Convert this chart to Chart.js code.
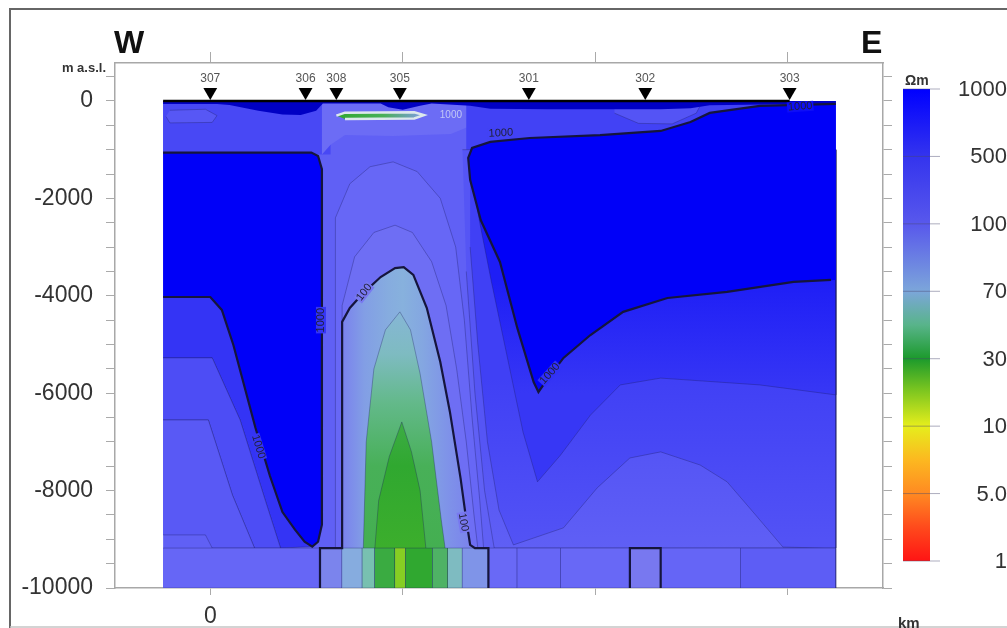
<!DOCTYPE html>
<html>
<head>
<meta charset="utf-8">
<script src="https://cdn.jsdelivr.net/npm/chart.js@4.4.0/dist/chart.umd.min.js"></script>
<style>
  html, body { margin: 0; padding: 0; background: #fff; }
  #wrap { width: 1007px; height: 628px; }
</style>
</head>
<body>
<div id="wrap"><canvas id="section" width="1007" height="628"></canvas></div>
<script>
// ---------------- données (x en km, y en m a.s.l., rho en ohm.m) ----------------

// stations MT le long du profil
const stationNames = ['307', '306', '308', '305', '301', '302', '303']
const stationKm = [0, 0.99, 1.31, 1.97, 3.31, 4.52, 6.02]

// axe vertical : étiquettes tous les 2000 m, petites graduations tous les 500 m
const depthLabels = [0, -2000, -4000, -6000, -8000, -10000]
const distTicks = [0, 2, 4, 6]

// échelle de couleur (étiquettes de la barre)
const colorbarLabels = ['1000', '500', '100', '70', '30', '10', '5.0', '1']

// emprise du modèle
const sectionLeft = -0.49
const sectionRight = 6.5
const sectionBase = -10000
const layerTop = -9180 // toit de la couche profonde

// couche profonde : bords des blocs et résistivités
const bottomEdges = [-0.49, 1.14, 1.37, 1.58, 1.71, 1.92, 2.03, 2.31, 2.47, 2.62, 2.89, 3.19, 3.64, 4.36, 4.68, 5.51, 6.5]
const bottomRho = [125, 95, 78, 55, 34, 16, 30, 42, 62, 88, 118, 125, 120, 100, 128, 150]

// couches superficielles
const topWest = [[-0.49, 0], [1.25, 0], [1.25, -1100], [-0.49, -1100]]
const topWestLens = [[-0.42, -190], [-0.05, -170], [0.07, -300], [0.02, -440], [-0.42, -450], [-0.46, -320]]
const topMid = [[1.16, -40], [2.72, -40], [2.8, -200], [2.72, -500], [2.5, -680], [1.9, -720], [1.4, -700], [1.25, -900], [1.16, -1100]]
const topEast = [[2.66, 0], [6.5, 0], [6.5, -1000], [2.66, -1000]]
const topEastPatch = [[4.2, -60], [5.1, -60], [5.05, -250], [4.8, -470], [4.45, -460], [4.2, -250]]
const surfaceBand = [[-0.49, 0], [6.5, 0], [6.5, -50], [5.19, -90], [4.99, -150], [4.68, -170], [3.5, -170], [2.91, -160], [2.7, -100], [2.3, -50], [2.18, -100], [2.0, -180], [1.85, -130], [1.77, -50], [1.17, -50], [1.1, -200], [0.94, -290], [0.75, -280], [0.5, -200], [0.2, -80], [0.07, -60], [-0.49, -60]]
const greenLens = [[1.31, -300], [1.4, -240], [2.12, -230], [2.22, -290], [2.12, -360], [1.4, -370]]
const greenLensRho = [[1.31, 30], [1.8, 40], [2.22, 85]]

// bloc résistant ouest (isoligne 1000) et bandes en dessous
const westContour = [[-0.49, -1060], [1.05, -1060], [1.12, -1130], [1.16, -1400], [1.16, -8700], [1.12, -9050], [1.06, -9150], [0.98, -9050], [0.88, -8800], [0.75, -8440], [0.62, -7700], [0.47, -6715], [0.24, -5010], [0.12, -4290], [0, -4025], [-0.49, -4025]]
const westBandA = [[-0.49, -4025], [0, -4025], [0.12, -4290], [0.24, -5010], [0.47, -6715], [0.62, -7700], [0.75, -8440], [0.88, -8800], [0.98, -9050], [1.06, -9150], [0.73, -9180], [0.57, -8190], [0.31, -6550], [0.02, -5275], [-0.49, -5275]]
const westBandB = [[-0.49, -5275], [0.02, -5275], [0.31, -6550], [0.57, -8190], [0.73, -9180], [0.46, -9180], [0.23, -8090], [-0.02, -6550], [-0.49, -6550]]
const westBandC = [[-0.49, -6550], [-0.02, -6550], [0.23, -8090], [0.46, -9180], [0.02, -9180], [-0.05, -8910], [-0.49, -8910]]

// bloc résistant est (isoligne 1000) et bandes en dessous
const eastContour = [[6.5, -60], [5.71, -100], [5.19, -245], [4.99, -430], [4.68, -615], [4.05, -700], [3.32, -760], [2.91, -840], [2.72, -965], [2.68, -1170], [2.7, -1620], [2.81, -2445], [3.01, -3305], [3.19, -4660], [3.36, -5770], [3.41, -5975], [3.51, -5690], [3.67, -5275], [3.95, -4805], [4.29, -4330], [4.75, -4045], [5.37, -3920], [6.06, -3715], [6.5, -3675]]
const eastBand1 = [[2.72, -1000], [6.5, -1000], [6.5, -6035], [5.71, -5830], [4.68, -5690], [4.26, -5830], [3.95, -6450], [3.64, -7270], [3.4, -7820], [3.25, -6800], [3.08, -5200], [2.92, -3700], [2.8, -2500], [2.72, -1600]]
const eastBand1Rho = [[-3700, 620], [-6000, 390]]
const eastBand2 = [[2.7, -1000], [6.5, -1000], [6.5, -9180], [6.39, -9180], [5.95, -9160], [5.64, -8440], [5.37, -7820], [5.09, -7475], [4.68, -7205], [4.36, -7330], [4.02, -7945], [3.67, -8765], [3.15, -9115], [3.0, -8400], [2.88, -7000], [2.78, -5000], [2.7, -3000]]
const eastBand2Rho = [[-5700, 320], [-9000, 200]]
const eastBand3 = [[2.62, -1000], [6.5, -1000], [6.5, -9180], [2.95, -9180], [2.85, -8000], [2.75, -6000], [2.66, -3500]]
const eastBand3Rho = [[-7200, 185], [-9180, 145]]

// zone centrale au-dessus du conducteur
const plumeMid = [[1.3, -9180], [1.3, -2400], [1.45, -1700], [1.66, -1350], [1.9, -1250], [2.15, -1450], [2.39, -2000], [2.55, -3000], [2.64, -4500], [2.72, -6500], [2.8, -8200], [2.84, -9180]]
const plumeInner = [[1.37, -9180], [1.37, -4200], [1.5, -3200], [1.7, -2700], [1.92, -2550], [2.1, -2700], [2.3, -3300], [2.45, -4200], [2.56, -5500], [2.66, -7000], [2.74, -8500], [2.78, -9180]]

// conducteur central (isoligne 100) et ses coeurs
const domeOuter = [[1.37, -9180], [1.37, -4535], [1.45, -4250], [1.59, -3945], [1.77, -3615], [1.92, -3430], [2.01, -3410], [2.11, -3570], [2.25, -4250], [2.39, -5360], [2.49, -6385], [2.6, -7740], [2.66, -8600], [2.7, -9115], [2.75, -9180]]
const domeOuterRho = [[1.37, 96], [1.6, 84], [1.85, 78], [2.0, 76], [2.2, 80], [2.45, 88], [2.75, 97]]
const domeMid = [[1.59, -9180], [1.62, -7000], [1.7, -5500], [1.82, -4700], [1.97, -4330], [2.08, -4700], [2.18, -5600], [2.3, -7000], [2.4, -8600], [2.44, -9180]]
const domeMidRho = [[-4330, 72], [-5200, 62], [-6200, 48], [-7500, 40], [-9180, 38]]
const domeCore = [[1.71, -9180], [1.75, -8200], [1.86, -7300], [1.99, -6590], [2.09, -7200], [2.18, -8000], [2.24, -9180]]
const domeCoreRho = [[-6590, 35], [-7500, 30], [-9180, 27]]
const box302 = [[4.36, -10000], [4.36, -9180], [4.68, -9180], [4.68, -10000]]

// étiquettes d'isolignes
const contourLabels = [
  { x: 1.15, y: -4500, text: '1000', angle: -90, rho: 400 },
  { x: 0.5, y: -7100, text: '1000', angle: 73, rho: 400 },
  { x: 1.6, y: -3930, text: '100', angle: -52, rho: 100 },
  { x: 2.63, y: -8650, text: '100', angle: 80, rho: 100 },
  { x: 3.02, y: -660, text: '1000', angle: -3, rho: 300 },
  { x: 6.13, y: -115, text: '1000', angle: -4, rho: 800 },
  { x: 3.53, y: -5600, text: '1000', angle: -48, rho: 450 }
]

// ---------------- style ----------------
const FONT = "'Liberation Sans', Arial, Helvetica, sans-serif"
const rhoStops = [3000, 1000, 700, 500, 350, 250, 180, 140, 120, 105, 100, 90, 75, 55, 40, 30, 20, 12, 10, 5, 1]
const rhoColors = ['#0000c4', '#0000f8', '#1616f6', '#2c2cf5', '#3c3cf5', '#4a4af5', '#5656f5', '#6060f5', '#6868f6', '#7070f4', '#7878f0', '#7e90ea', '#88b4dc', '#78c0b0', '#48b058', '#30a830', '#60c020', '#b8e028', '#e0f020', '#ff8c1a', '#ff1010']
const colorbarStops = [[0, '#0000ff'], [1, '#3434ee'], [2, '#5858ec'], [3, '#7ca6da'], [3.5, '#58b48a'], [4, '#1c9a2c'], [4.45, '#78c420'], [5, '#e6ee1c'], [5.5, '#fcb820'], [6, '#ff8a22'], [6.5, '#ff4a1c'], [7, '#ff1414']]
const faintEdge = 'rgba(25, 25, 90, 0.32)'
const contourColor = '#15153c'
const stationMarkElev = 185

function hexToRgb(h) {
  return [parseInt(h.slice(1, 3), 16), parseInt(h.slice(3, 5), 16), parseInt(h.slice(5, 7), 16)]
}

function mix(c1, c2, t) {
  const a = hexToRgb(c1), b = hexToRgb(c2)
  const r = a.map((v, i) => Math.round(v + (b[i] - v) * t))
  return `rgb(${r[0]},${r[1]},${r[2]})`
}

// couleur d'une résistivité (interpolation en log)
function rhoColor(rho) {
  const lr = Math.log10(rho)
  if (lr >= Math.log10(rhoStops[0])) return rhoColors[0]
  for (let i = 0; i < rhoStops.length - 1; i++) {
    const a = Math.log10(rhoStops[i]), b = Math.log10(rhoStops[i + 1])
    if (lr <= a && lr >= b) return mix(rhoColors[i], rhoColors[i + 1], (a - lr) / (a - b))
  }
  return rhoColors[rhoColors.length - 1]
}

// dégradé le long d'un axe à partir de couples [position, rho]
function gradientFill(stops, axis) {
  return function (context) {
    const chart = context.chart
    const sc = chart.scales[axis]
    if (!sc || !chart.chartArea) return rhoColor(stops[0][1])
    const p0 = sc.getPixelForValue(stops[0][0])
    const p1 = sc.getPixelForValue(stops[stops.length - 1][0])
    const g = axis === 'x' ? chart.ctx.createLinearGradient(p0, 0, p1, 0) : chart.ctx.createLinearGradient(0, p0, 0, p1)
    stops.forEach(s => g.addColorStop(Math.min(1, Math.max(0, (sc.getPixelForValue(s[0]) - p0) / (p1 - p0))), rhoColor(s[1])))
    return g
  }
}

const toXY = pts => pts.map(p => ({ x: p[0], y: p[1] }))

// ---------------- jeux de données ----------------
const datasets = []

function addRegion(pts, fill, edge, edgeColor, edgeWidth) {
  datasets.push({
    data: toXY(pts),
    showLine: true,
    fill: 'shape',
    backgroundColor: fill,
    borderColor: edge ? (edgeColor || faintEdge) : 'transparent',
    borderWidth: edge ? (edgeWidth || 1) : 0,
    pointRadius: 0,
    tension: 0
  })
}

function addLine(pts, color, width) {
  datasets.push({
    data: toXY(pts),
    showLine: true,
    fill: false,
    borderColor: color,
    borderWidth: width,
    pointRadius: 0,
    tension: 0
  })
}

const section = [[sectionLeft, 0], [sectionRight, 0], [sectionRight, sectionBase], [sectionLeft, sectionBase]]
addRegion(section, rhoColor(140), false)
addRegion(topWest, rhoColor(260), false)
addRegion(topWestLens, rhoColor(175), true)
addRegion(topMid, rhoColor(112), false)
addRegion(topEast, rhoColor(300), false)
addRegion(topEastPatch, rhoColor(190), true)
addRegion(westBandA, rhoColor(420), true)
addRegion(westBandB, rhoColor(230), true)
addRegion(westBandC, rhoColor(165), true)
addRegion(westContour, rhoColor(1000), false)
addRegion(eastBand3, gradientFill(eastBand3Rho, 'y'), true)
addRegion(eastBand2, gradientFill(eastBand2Rho, 'y'), true)
addRegion(eastBand1, gradientFill(eastBand1Rho, 'y'), true)
addRegion(eastContour, rhoColor(1000), false)
addRegion(plumeMid, rhoColor(122), true)
addRegion(plumeInner, rhoColor(108), true)
addRegion(domeOuter, gradientFill(domeOuterRho, 'x'), false)
addRegion(domeMid, gradientFill(domeMidRho, 'y'), true)
addRegion(domeCore, gradientFill(domeCoreRho, 'y'), true)

// blocs de la couche profonde
for (let i = 0; i < bottomRho.length; i++) {
  const x0 = bottomEdges[i], x1 = bottomEdges[i + 1]
  addRegion([[x0, layerTop], [x1, layerTop], [x1, sectionBase], [x0, sectionBase]], rhoColor(bottomRho[i]), true)
}

addRegion(surfaceBand, rhoColor(3000), false)
addRegion(greenLens, gradientFill(greenLensRho, 'x'), true, '#dce8ec', 2.5)

// isolignes principales
const domeContour = [[1.14, sectionBase], [1.14, layerTop], ...domeOuter, [2.89, layerTop], [2.89, sectionBase]]
addLine(westContour, contourColor, 2.2)
addLine(eastContour.slice(0, -1).concat([[6.45, -3675]]), contourColor, 2.2)
addLine(domeContour, contourColor, 2.2)
addLine(box302, contourColor, 2.2)

// ligne du profil en surface
addLine([[sectionLeft, 0], [stationKm[stationKm.length - 1], 0]], '#000', 2.5)

// stations
datasets.push({
  data: stationKm.map(x => ({ x: x, y: stationMarkElev })),
  showLine: false,
  pointStyle: 'triangle',
  rotation: 180,
  pointRadius: 8,
  pointBackgroundColor: '#000',
  pointBorderColor: '#000',
  pointBorderWidth: 0
})

// premier jeu = dessous, dernier = dessus
datasets.forEach((d, i) => { d.order = datasets.length - i })

// ---------------- plugin de décor ----------------
const decor = {
  id: 'decor',
  afterDatasetsDraw(chart) {
    const ctx = chart.ctx
    const xs = chart.scales.x, ys = chart.scales.y
    ctx.save()

    // étiquettes des isolignes
    ctx.font = `11px ${FONT}`
    ctx.textAlign = 'center'
    ctx.textBaseline = 'middle'
    contourLabels.forEach(l => {
      ctx.save()
      ctx.translate(xs.getPixelForValue(l.x), ys.getPixelForValue(l.y))
      ctx.rotate(l.angle * Math.PI / 180)
      const w = ctx.measureText(l.text).width
      ctx.fillStyle = rhoColor(l.rho)
      ctx.fillRect(-w / 2 - 1, -5, w + 2, 10)
      ctx.fillStyle = '#20203a'
      ctx.fillText(l.text, 0, 0)
      ctx.restore()
    })

    // petite étiquette blanche près de la lentille
    ctx.font = `10px ${FONT}`
    ctx.fillStyle = 'rgba(220,228,245,0.75)'
    ctx.fillText('1000', xs.getPixelForValue(2.5), ys.getPixelForValue(-300))

    // noms des stations
    ctx.font = `12px ${FONT}`
    ctx.fillStyle = '#555'
    ctx.textBaseline = 'alphabetic'
    stationNames.forEach((n, i) => {
      ctx.fillText(n, xs.getPixelForValue(stationKm[i]), ys.getPixelForValue(0) - 19)
    })
    ctx.restore()
  },
  afterDraw(chart) {
    const ctx = chart.ctx
    ctx.save()

    // cadre de la figure
    ctx.strokeStyle = '#666'
    ctx.lineWidth = 2
    ctx.beginPath()
    ctx.moveTo(10, 628)
    ctx.lineTo(10, 9)
    ctx.lineTo(1007, 9)
    ctx.stroke()
    ctx.strokeStyle = '#c4c4c4'
    ctx.lineWidth = 1.5
    ctx.beginPath()
    ctx.moveTo(10, 627)
    ctx.lineTo(1007, 627)
    ctx.stroke()

    // W / E
    ctx.fillStyle = '#111'
    ctx.font = `bold 32px ${FONT}`
    ctx.textAlign = 'left'
    ctx.textBaseline = 'alphabetic'
    ctx.fillText('W', 114, 53)
    ctx.fillText('E', 861, 53)

    ctx.font = `bold 13px ${FONT}`
    ctx.textAlign = 'right'
    ctx.fillStyle = '#333'
    ctx.fillText('m a.s.l.', 106, 72)

    // barre de couleurs
    const bx = 903, bw = 27, by = 89, bh = 472
    const g = ctx.createLinearGradient(0, by, 0, by + bh)
    const n = colorbarLabels.length - 1
    colorbarStops.forEach(s => g.addColorStop(s[0] / n, s[1]))
    ctx.fillStyle = g
    ctx.fillRect(bx, by, bw, bh)

    ctx.font = `22px ${FONT}`
    ctx.textAlign = 'right'
    ctx.textBaseline = 'middle'
    colorbarLabels.forEach((lab, i) => {
      const yy = by + bh * i / n
      ctx.strokeStyle = 'rgba(70,70,110,0.45)'
      ctx.lineWidth = 1
      ctx.beginPath()
      ctx.moveTo(bx, yy)
      ctx.lineTo(bx + bw + 10, yy)
      ctx.stroke()
      ctx.fillStyle = '#333'
      ctx.fillText(lab, 1007, yy + 1)
    })

    ctx.font = `bold 14px ${FONT}`
    ctx.textAlign = 'left'
    ctx.textBaseline = 'alphabetic'
    ctx.fillStyle = '#333'
    ctx.fillText('\u03A9m', 905, 85)
    ctx.font = `bold 15px ${FONT}`
    ctx.fillText('km', 898, 628)
    ctx.restore()
  }
}

// ---------------- graphique ----------------
const depthTicks = []
for (let v = -10000; v <= 500; v += 500) depthTicks.push(v)

const axisBorder = { display: true, color: '#a8a8a8', width: 1.5 }

const config = {
  type: 'scatter',
  data: { datasets: datasets },
  options: {
    responsive: false,
    animation: false,
    events: [],
    layout: { padding: 0 },
    plugins: { legend: { display: false }, tooltip: { enabled: false } },
    scales: {
      x: {
        type: 'linear', position: 'bottom', min: -0.99, max: 6.99,
        afterBuildTicks: s => { s.ticks = distTicks.map(v => ({ value: v })) },
        ticks: { autoSkip: false, maxRotation: 0, callback: v => (v === 0 ? '0' : ''), font: { size: 23, family: FONT }, color: '#333', padding: 8 },
        grid: { drawOnChartArea: false, tickLength: 7, tickColor: '#aaa' },
        border: axisBorder,
        afterFit: s => { s.height = 40 }
      },
      x2: {
        type: 'linear', position: 'top', min: -0.99, max: 6.99,
        afterBuildTicks: s => { s.ticks = distTicks.map(v => ({ value: v })) },
        ticks: { autoSkip: false, maxRotation: 0, callback: () => '', font: { size: 10 } },
        grid: { drawOnChartArea: false, tickLength: 11, tickColor: '#aaa' },
        border: axisBorder,
        afterFit: s => { s.height = 63 }
      },
      y: {
        type: 'linear', position: 'left', min: -10000, max: 780,
        afterBuildTicks: s => { s.ticks = depthTicks.map(v => ({ value: v })) },
        ticks: { autoSkip: false, callback: v => (depthLabels.includes(v) ? String(v) : ''), font: { size: 23, family: FONT }, color: '#333', padding: 13 },
        grid: { drawOnChartArea: false, tickLength: 9, tickColor: '#aaa' },
        border: axisBorder,
        afterFit: s => { s.width = 115 }
      },
      y2: {
        type: 'linear', position: 'right', min: -10000, max: 780,
        afterBuildTicks: s => { s.ticks = depthTicks.map(v => ({ value: v })) },
        ticks: { autoSkip: false, callback: () => '', font: { size: 10 } },
        grid: { drawOnChartArea: false, tickLength: 9, tickColor: '#aaa' },
        border: axisBorder,
        afterFit: s => { s.width = 124 }
      }
    }
  },
  plugins: [decor]
}

const chart = new Chart(document.getElementById('section'), config)
</script>
</body>
</html>
